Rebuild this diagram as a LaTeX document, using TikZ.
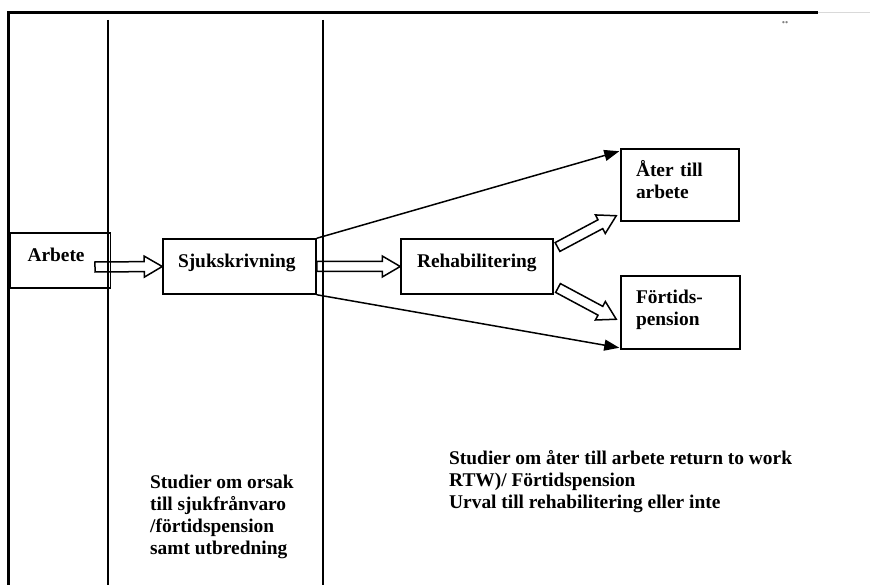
\documentclass[tikz,border=0pt]{standalone}
\usepackage{fontspec}
\setmainfont{Liberation Serif}
\usetikzlibrary{arrows.meta,calc}

% hollow block arrow between two named points
\newcommand{\blockarrow}[2]{%
  \coordinate (hb) at ($(#2)!18pt!(#1)$);
  \draw[blockline] ($(#1)!5pt!90:(#2)$) -- ($(hb)!5pt!90:(#2)$) -- ($(hb)!10.5pt!90:(#2)$) -- (#2)
    -- ($(hb)!10.5pt!-90:(#2)$) -- ($(hb)!5pt!-90:(#2)$) -- ($(#1)!5pt!-90:(#2)$) -- cycle;
}

\begin{document}
\begin{tikzpicture}[x=1pt, y=-1pt, font=\fontsize{19.4}{22}\selectfont\bfseries,
    box/.style={draw, line width=1.5pt, inner xsep=15pt, inner ysep=0pt, align=left, text depth=12pt},
    frame/.style={line width=2.2pt},
    divider/.style={line width=1.5pt},
    linearrow/.style={line width=1.5pt, -{Triangle[length=15pt,width=11pt]}},
    blockline/.style={line width=1.5pt, line join=miter},
    note/.style={anchor=north west, inner sep=0pt, align=left}]
    \useasboundingbox (0,0) rectangle (870,585);

    % frame and columns
    \draw[frame] (8.5,585) -- (8.5,12.5) -- (818,12.5);
    \draw[line width=1pt, gray!30] (818,12.5) -- (870,12.5);
    \draw[divider] (108,20) -- (108,585);
    \draw[divider] (323,20) -- (323,585);
    \node[anchor=base, gray, inner sep=0pt] (dots) at (785,35) {¨};

    % boxes
    \node[box, inner xsep=17pt, text width=66pt, minimum height=55pt] (arbete) at (60.5,260.5) {Arbete};
    \node[box, text width=123pt, minimum height=55pt] (sjuk) at (239.5,266.5) {Sjukskrivning};
    \node[box, inner xsep=16pt, text width=120pt, minimum height=55pt] (rehab) at (477,266.5) {Rehabilitering};
    \node[box, text width=88pt, minimum height=72pt, text depth=34pt] (ater) at (680,185) {Åter till\\arbete};
    \node[box, text width=89pt, minimum height=73pt, text depth=31pt] (fortids) at (680.5,312.5) {Förtids-\\pension};

    % arrows
    \coordinate (a0) at (95,267);
    \blockarrow{a0}{sjuk.west}
    \blockarrow{sjuk.east}{rehab.west}
    \coordinate (r1) at (557.5,247);
    \coordinate (r2) at (558,288);
    \coordinate (t1) at ($(ater.south west)+(-4,-6)$);
    \coordinate (t2) at ($(fortids.north west)+(-4,44)$);
    \blockarrow{r1}{t1}
    \blockarrow{r2}{t2}
    \draw[linearrow] (sjuk.north east) -- ($(ater.north west)+(-1,3)$);
    \draw[linearrow] (sjuk.south east) -- ($(fortids.south west)+(-1,-2)$);

    % notes
    \node[note] (orsak) at (150,475) {Studier om orsak\\till sjukfrånvaro\\/förtidspension\\samt utbredning};
    \node[note] (atergang) at (449,450) {Studier om åter till arbete return to work\\RTW)/ Förtidspension\\Urval till rehabilitering eller inte};
\end{tikzpicture}
\end{document}
